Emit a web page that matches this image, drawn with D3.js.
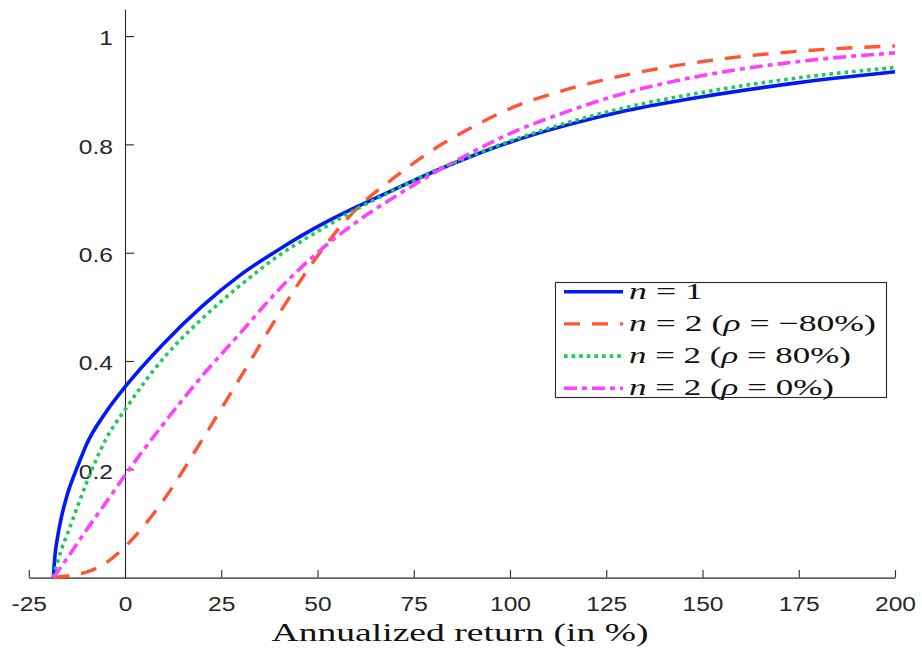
<!DOCTYPE html>
<html>
<head>
<meta charset="utf-8">
<script src="https://cdn.jsdelivr.net/npm/d3@7"></script>
<style>
  body { margin: 0; background: #fff; }
  svg { display: block; }
</style>
</head>
<body>
<div id="container"></div>
<script>
// annualized return (in %) -- shared x values for all curves
const returns = [-18.6, -18.2, -17.5, -16.5, -15, -12.5, -10, -5, 0, 10, 20, 30, 40, 50, 60, 70, 80, 90, 100, 115, 130, 150, 175, 200]

const n1 = [0, 0.04, 0.075, 0.112, 0.153, 0.202, 0.246, 0.305, 0.352, 0.432, 0.501, 0.559, 0.606, 0.648, 0.684, 0.717, 0.749, 0.778, 0.804, 0.836, 0.862, 0.888, 0.914, 0.934]
const n2Neg80 = [0, 0, 0.001, 0.002, 0.003, 0.006, 0.01, 0.027, 0.057, 0.143, 0.254, 0.37, 0.487, 0.594, 0.68, 0.739, 0.79, 0.831, 0.866, 0.902, 0.928, 0.953, 0.972, 0.982]
const n2Pos80 = [0, 0.012, 0.03, 0.052, 0.08, 0.128, 0.175, 0.255, 0.31, 0.405, 0.478, 0.54, 0.595, 0.639, 0.68, 0.716, 0.75, 0.779, 0.806, 0.84, 0.868, 0.896, 0.923, 0.942]
const n2Zero = [0, 0.004, 0.011, 0.021, 0.036, 0.062, 0.088, 0.138, 0.189, 0.284, 0.372, 0.452, 0.532, 0.6, 0.656, 0.703, 0.746, 0.785, 0.82, 0.861, 0.895, 0.927, 0.953, 0.969]

const xTicks = [-25, 0, 25, 50, 75, 100, 125, 150, 175, 200]
const yTicks = [0.2, 0.4, 0.6, 0.8, 1]

const series = [
    { name: 'n1', values: n1, color: '#0019f5', dash: null, width: 3.6, label: [['n', true], [' = 1', false]], labelW: 74 },
    { name: 'neg80', values: n2Neg80, color: '#ff5533', dash: '16,12', width: 3.4, label: [['n', true], [' = 2 (', false], ['ρ', true], [' = −80%)', false]], labelW: 247 },
    { name: 'pos80', values: n2Pos80, color: '#1ec95a', dash: '3.6,4', width: 3.6, label: [['n', true], [' = 2 (', false], ['ρ', true], [' = 80%)', false]], labelW: 222 },
    { name: 'zero', values: n2Zero, color: '#ff40ff', dash: '13,5,5,5', width: 3.6, label: [['n', true], [' = 2 (', false], ['ρ', true], [' = 0%)', false]], labelW: 205 }
]

const width = 922
const height = 651
const svg = d3.select('#container').append('svg').attr('width', width).attr('height', height).style('background', '#fff')

const xScale = d3.scaleLinear().domain([-25, 200]).range([28.75, 895])
const yScale = d3.scaleLinear().domain([0, 1.05]).range([577.6, 9])

const axisColor = '#262626'
const tickFont = '"Liberation Sans", Arial, sans-serif'
const serifFont = '"Liberation Serif", "Times New Roman", serif'
const stretch = 1.26  // the original figure is a bit wider than tall

// x axis through y = 0
const xAxis = d3.axisBottom(xScale).tickValues(xTicks).tickSize(-7.5).tickSizeOuter(0).tickPadding(20).tickFormat(d => String(d))
const gx = svg.append('g')
    .attr('id', 'x-axis')
    .attr('transform', `translate(0, ${yScale(0)})`)
    .call(xAxis)

// y axis through x = 0
const yAxis = d3.axisLeft(yScale).tickValues(yTicks).tickSize(-9).tickSizeOuter(0).tickFormat(d => String(d))
const gy = svg.append('g')
    .attr('id', 'y-axis')
    .attr('transform', `translate(${xScale(0)}, 0)`)
    .call(yAxis)

for (const g of [gx, gy]) {
    g.select('.domain').attr('stroke', axisColor).attr('stroke-width', 1.1)
    g.selectAll('.tick line').attr('stroke', axisColor).attr('stroke-width', 1.1)
    g.selectAll('.tick text').attr('fill', axisColor).style('font-family', tickFont).style('font-size', '19.5px')
        .attr('transform', `scale(${stretch},1)`)
}
gy.selectAll('.tick text').attr('x', -12 / stretch).attr('dy', '0.45em')

// fit a text element to a measured width by stretching it horizontally
const fitWidth = (sel, x, y, w) => {
    const natural = sel.node().getComputedTextLength()
    sel.attr('transform', `translate(${x},${y}) scale(${w / natural},1)`)
}

// x label
const xLabel = svg.append('text')
    .attr('text-anchor', 'middle')
    .style('font-family', serifFont)
    .style('font-size', '26px')
    .attr('fill', '#111')
    .text('Annualized return (in %)')
fitWidth(xLabel, 460, 641, 377)

// curves
const line = d3.line()
    .x(d => xScale(d[0]))
    .y(d => yScale(d[1]))
    .curve(d3.curveMonotoneX)

svg.selectAll('path.curve').data(series).enter().append('path')
    .attr('class', 'curve')
    .attr('d', s => line(returns.map((r, i) => [r, s.values[i]])))
    .attr('fill', 'none')
    .attr('stroke', s => s.color)
    .attr('stroke-width', s => s.width)
    .attr('stroke-dasharray', s => s.dash)

// legend
const legend = svg.append('g').attr('id', 'legend')
legend.append('rect')
    .attr('x', 555.5).attr('y', 282.5)
    .attr('width', 331).attr('height', 115)
    .attr('fill', '#fff')
    .attr('stroke', axisColor)
    .attr('stroke-width', 1.1)

series.forEach((s, i) => {
    const yRow = 291.7 + i * 32.2
    legend.append('line')
        .attr('x1', 564).attr('x2', 623)
        .attr('y1', yRow).attr('y2', yRow)
        .attr('stroke', s.color)
        .attr('stroke-width', s.width)
        .attr('stroke-dasharray', s.dash)
    const t = legend.append('text')
        .style('font-family', serifFont)
        .style('font-size', '23.5px')
        .attr('fill', '#111')
    s.label.forEach(([str, it]) => {
        t.append('tspan').style('font-style', it ? 'italic' : 'normal').text(str)
    })
    fitWidth(t, 629, yRow + 7, s.labelW)
})
</script>
</body>
</html>
